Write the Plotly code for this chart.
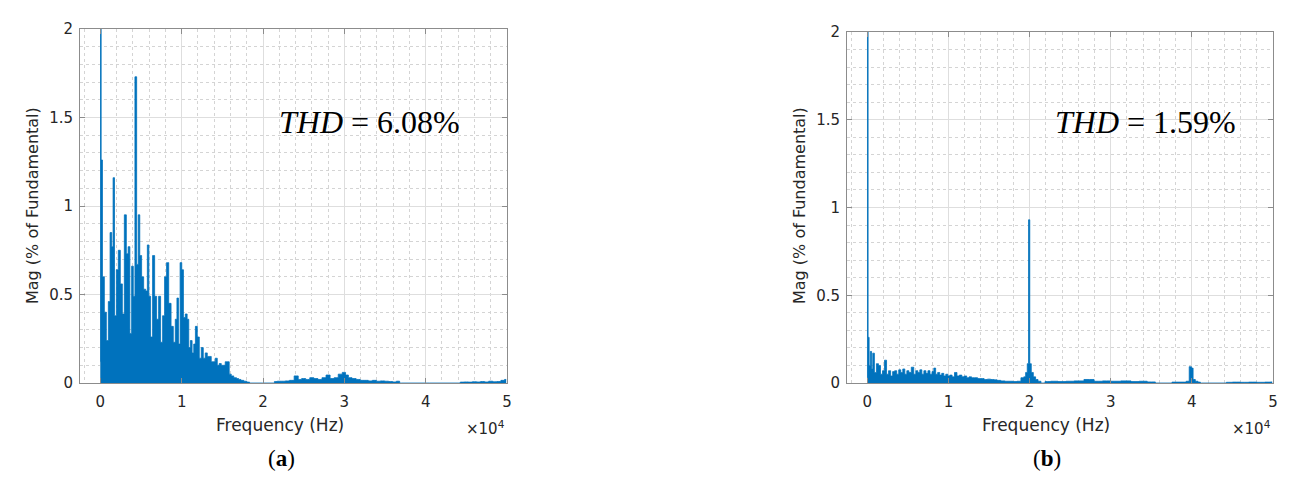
import plotly.graph_objects as go

# spectrum (a): frequency in Hz, magnitude in % of fundamental
freq_a = [0, 50, 150, 370, 615, 860, 1105, 1290, 1500, 1640, 1840, 2090, 2330, 2580, 2830,
          3070, 3320, 3520, 3740, 3950, 4150, 4360, 4570, 4750, 4950, 5200, 5450, 5690, 5870,
          6060, 6300, 6550, 6800, 7040, 7290, 7530, 7780, 8020, 8270, 8540, 8850, 9090, 9340,
          9500, 9710, 9910, 10110, 10320, 10570, 10770, 10970, 11180, 11380, 11590, 11790,
          12040, 12290, 12530, 12780, 13020, 13270, 13510, 13760, 14000, 14250, 14500, 14740,
          14990, 15230, 15480, 15720, 15970, 16220, 16580, 16900, 17110, 17450, 17810, 18200,
          18500, 21300, 21500, 22000, 22500, 23000, 23500, 24160, 24500, 25000, 25500, 26000,
          26500, 27000, 27500, 28000, 28500, 29000, 29500, 30000, 30300, 30700, 31200, 31700,
          32200, 32700, 33200, 33700, 34200, 34700, 35200, 35700, 36200, 36600, 37000, 44000,
          44500, 45000, 45500, 46000, 46500, 47000, 47500, 48000, 48500, 49000, 49500, 49900]
mag_a = [0.12, 100, 1.26, 0.60, 0.40, 0.24, 0.46, 0.85, 0.77, 1.16, 0.38, 0.64, 0.75, 0.56, 0.39,
         0.95, 0.73, 0.77, 0.28, 0.66, 0.49, 1.73, 0.67, 0.95, 0.72, 0.60, 0.53, 0.52, 0.78,
         0.49, 0.26, 0.72, 0.49, 0.36, 0.49, 0.23, 0.38, 0.60, 0.68, 0.45, 0.32, 0.23, 0.36,
         0.48, 0.22, 0.68, 0.64, 0.37, 0.39, 0.36, 0.20, 0.24, 0.17, 0.22, 0.32,
         0.26, 0.14, 0.20, 0.14, 0.17, 0.15, 0.15, 0.12, 0.12, 0.14, 0.10, 0.11,
         0.10, 0.10, 0.12, 0.12, 0.05, 0.04, 0.03, 0.025, 0.02, 0.015, 0.01, 0.005,
         0, 0, 0.008, 0.01, 0.01, 0.012, 0.015, 0.04, 0.02, 0.025, 0.02, 0.03,
         0.025, 0.02, 0.03, 0.045, 0.025, 0.03, 0.05, 0.06, 0.045, 0.03, 0.025, 0.02,
         0.015, 0.015, 0.012, 0.015, 0.01, 0.012, 0.01, 0.008, 0.006, 0.01, 0, 0,
         0.005, 0.006, 0.005, 0.007, 0.006, 0.008, 0.006, 0.01, 0.007, 0.008, 0.015, 0.02]

# spectrum (b)
freq_b = [0, 50, 150, 300, 450, 600, 750, 1000, 1250, 1500, 1750, 2000, 2250, 2500, 2750,
          3000, 3250, 3500, 3750, 4000, 4250, 4500, 4750, 5000, 5250, 5600, 5850, 6100, 6350,
          6600, 6850, 7100, 7350, 7600, 7850, 8100, 8300, 8550, 8800, 9050, 9300, 9550, 9800,
          10050, 10300, 10600, 10900, 11200, 11500, 11800, 12100, 12400, 12700, 13000, 13400,
          13800, 14200, 14600, 15000, 15400, 15800, 16200, 16700, 17200, 17700, 18200, 18700,
          19170, 19400, 19630, 19800, 19950, 20100, 20320, 20600, 20880, 21200, 21600, 22200,
          23000, 24000, 25000, 26000, 27400, 28500, 29500, 30500, 32000, 33000, 34000, 35000,
          36000, 39100, 39500, 39850, 40050, 40250, 40600, 40900, 41200, 44000, 44500, 45500,
          46500, 47500, 48500, 49500, 49900]
mag_b = [0.03, 100, 0.26, 0.10, 0.18, 0.08, 0.17, 0.06, 0.11, 0.10, 0.05, 0.07, 0.13, 0.05, 0.07,
         0.04, 0.065, 0.07, 0.05, 0.075, 0.06, 0.08, 0.05, 0.07, 0.06, 0.09, 0.05, 0.07, 0.06,
         0.075, 0.05, 0.07, 0.055, 0.07, 0.05, 0.065, 0.085, 0.05, 0.06, 0.045, 0.055, 0.04, 0.05,
         0.04, 0.045, 0.035, 0.06, 0.04, 0.045, 0.035, 0.04, 0.03, 0.035, 0.03, 0.03,
         0.025, 0.025, 0.02, 0.022, 0.02, 0.018, 0.015, 0.012, 0.01, 0.01, 0.008, 0.01,
         0.03, 0.035, 0.06, 0.11, 0.93, 0.11, 0.06, 0.035, 0.02, 0.01, 0, 0.008,
         0.01, 0.008, 0.01, 0.012, 0.02, 0.01, 0.012, 0.01, 0.012, 0.008, 0.01, 0.006,
         0, 0.005, 0.01, 0.093, 0.085, 0.02, 0.01, 0.005, 0, 0, 0.004, 0.005,
         0.004, 0.005, 0.004, 0.005, 0.006]

x_tick_vals = [0, 10000, 20000, 30000, 40000, 50000]
x_tick_text = ["0", "1", "2", "3", "4", "5"]
y_tick_vals = [0, 0.5, 1, 1.5, 2]
y_tick_text = ["0", "0.5", "1", "1.5", "2"]
thd_labels = ["6.08%", "1.59%"]
panel_labels = ["a", "b"]

# the page body adds an 8px margin, so the figure is sized and placed around it
OFF = 8
W, H = 1295 - OFF, 492 - OFF
BLUE = "#0072BD"
TXT = "#262626"


def px(x):
    return (x - OFF) / W


def py(y):
    return 1 - (y - OFF) / H


fig = go.Figure()
for i, (f, m) in enumerate([(freq_a, mag_a), (freq_b, mag_b)]):
    fig.add_trace(go.Scatter(
        x=f, y=m, mode="lines", line=dict(color=BLUE, width=0.8, shape="hvh"),
        fill="tozeroy", fillcolor=BLUE, showlegend=False,
        xaxis="x" if i == 0 else "x2", yaxis="y" if i == 0 else "y2",
    ))

axis_common = dict(
    showline=True, linecolor="#8c8c8c", linewidth=1, mirror="ticks",
    ticks="inside", ticklen=5, tickcolor="#8c8c8c", automargin=False,
    showgrid=True, gridcolor="#dedede", gridwidth=1, zeroline=False,
    tickfont=dict(family="DejaVu Sans", size=15, color=TXT),
)
minor_x = dict(dtick=2000, showgrid=True, gridcolor="#d4d4d4", griddash="dot", ticks="")
minor_y = dict(dtick=0.1, showgrid=True, gridcolor="#d4d4d4", griddash="dot", ticks="")

fig.update_layout(
    template="none",
    width=W, height=H, margin=dict(l=0, r=0, t=0, b=0),
    paper_bgcolor="white", plot_bgcolor="white",
    xaxis=dict(domain=[px(80), px(507)], range=[-2500, 50000], anchor="y", ticklabelstandoff=5,
               tickvals=x_tick_vals, ticktext=x_tick_text, minor=minor_x, **axis_common),
    yaxis=dict(domain=[py(383), py(29)], range=[0, 2], anchor="x", ticklabelstandoff=3,
               tickvals=y_tick_vals, ticktext=y_tick_text, minor=minor_y, **axis_common),
    xaxis2=dict(domain=[px(847), px(1273)], range=[-2500, 50000], anchor="y2", ticklabelstandoff=5,
                tickvals=x_tick_vals, ticktext=x_tick_text, minor=minor_x, **axis_common),
    yaxis2=dict(domain=[py(383), py(32)], range=[0, 2], anchor="x2", ticklabelstandoff=3,
                tickvals=y_tick_vals, ticktext=y_tick_text, minor=minor_y, **axis_common),
)


def note(x, y, text, font, **kw):
    fig.add_annotation(x=px(x), y=py(y), xref="paper", yref="paper", showarrow=False,
                       xanchor=kw.pop("xanchor", "center"), yanchor="middle",
                       text=text, font=font, **kw)


# text placed per panel: (left edge, right edge, y-label x, THD centre x, label centre x)
panels = [(80, 507, 32, 369, 281), (847, 1273, 799, 1145, 1047)]
for (left, right, ylab_x, thd_x, lab_x), thd, lab in zip(panels, thd_labels, panel_labels):
    mid = (left + right) / 2
    note(ylab_x, 206, "Mag (% of Fundamental)",
         dict(family="DejaVu Sans", size=16, color=TXT), textangle=-90)
    note(mid - 14, 425, "Frequency (Hz)", dict(family="DejaVu Sans", size=17, color=TXT))
    note(right, 428, "\u00d710<sup>4</sup>", dict(family="DejaVu Sans", size=15, color=TXT),
         xanchor="right")
    note(thd_x, 122, "<i>THD</i> = " + thd, dict(family="Liberation Serif", size=32, color="black"))
    note(lab_x, 458, "(<b>" + lab + "</b>)", dict(family="Liberation Serif", size=23, color="black"))

fig.write_html("out.html")
